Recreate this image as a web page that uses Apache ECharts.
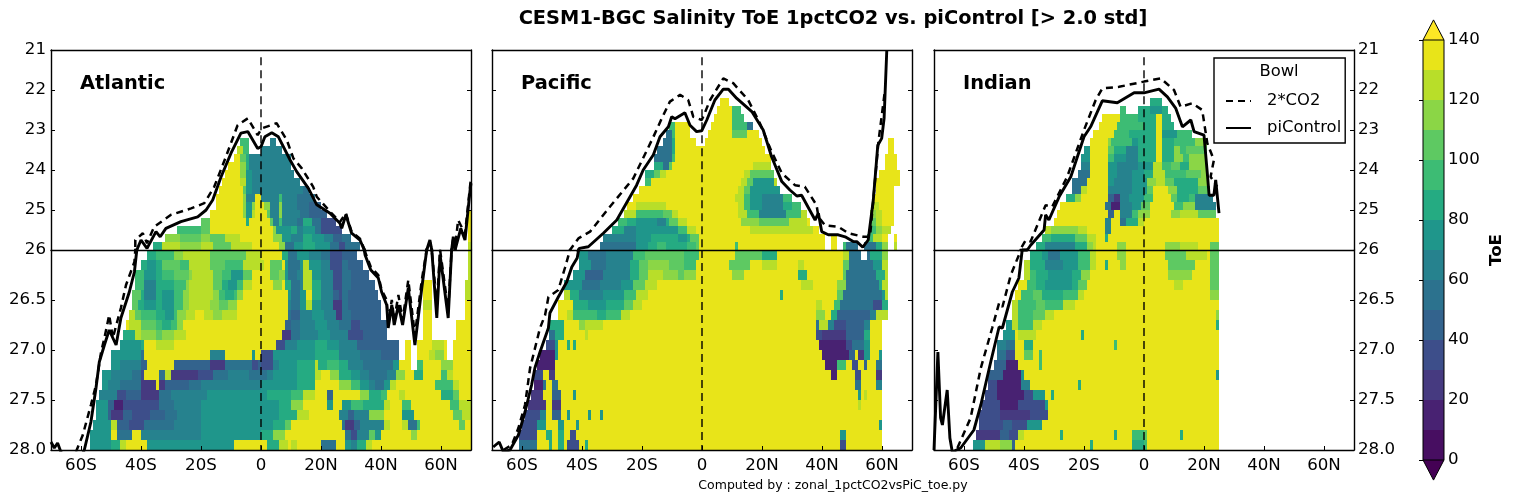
<!DOCTYPE html>
<html><head><meta charset="utf-8">
<style>html,body{margin:0;padding:0;background:#fff}#c{width:1513px;height:503px}</style>
<script src="https://cdn.jsdelivr.net/npm/echarts@6/dist/echarts.min.js"></script>
</head><body><div id="c"></div>
<script>
// ToE level per run: first char = level (0-d, one per 10 yr band; '.' = no data), rest = longitude where the run ends.
const atlanticUpper = ['','','','','','','','','','','',
".-7 9-4 .3 65",
".-8 c-6 9-4 .0 67",
".-9 d-7 a-5 8-4 610",
".-11 d-7 b-5 8-4 610",
".-12 d-7 b-5 7-3 611",
".-13 d-7 c-5 7-3 613",
".-14 d-6 a-5 7-3 614 516",
".-15 d-6 b-5 6-2 d0 66 97 612 518",
".-15 d-6 b-5 7-3 b-2 d1 b3 66 b7 612 516 420",
".-17 d-6 b-5 7-3 c-2 d2 a3 66 b7 613 516 422 .69 d70",
".-20 a-17 d-5 8-4 d3 a4 66 97 612 514 817 520 325 .69 d70",
".-28 9-20 a-17 d4 b5 710 812 614 718 520 327 .69 d70",
".-32 b-27 a-20 b-17 a-12 c-7 d4 b7 710 614 817 721 624 427 530 .69 d70",
".-36 8-33 c-27 b-20 c-16 a-10 c-3 d6 b8 511 714 818 723 526 328 533 .69 c70"];
const atlanticLower = [
".-38 8-35 9-29 b-26 c-17 a-5 c0 d7 89 512 716 620 523 327 432 .69 c70",
".-40 8-38 7-35 8-33 a-27 9-24 c-17 a-12 9-6 c0 c1 d3 a7 d8 79 513 714 c16 720 623 327 529 434 .69 c70",
".-42 9-39 7-35 8-33 9-29 a-24 b-23 c-16 a-13 9-10 7-6 a-3 d0 d3 a6 b8 79 512 614 c17 720 624 327 530 436 .69 c70",
".-42 9-39 6-35 8-33 8-29 9-25 b-24 c-16 a-13 8-11 7-8 9-6 c-3 d0 d4 b7 d8 810 513 614 c17 820 624 327 530 438 .54 d57 .68 c70",
".-43 a-40 8-39 6-35 8-33 7-29 9-26 b-24 c-16 b-14 9-12 8-9 9-8 b-6 d0 d9 710 513 715 d17 820 624 426 327 529 439 .54 d57 .68 c70",
".-43 a-41 8-39 7-35 8-33 7-29 9-26 b-24 c-17 b-14 a-11 b-8 d0 d9 610 513 715 c17 720 624 227 529 440 .54 c57 .68 d70",
".-44 c-42 a-40 9-35 8-32 7-29 9-28 b-25 c-22 d-19 c-16 b-13 c-8 d0 d9 510 413 617 721 625 227 530 440 .54 d57 .68 d70",
".-45 d-44 c-40 a-35 9-33 8-30 9-28 b-26 d0 d8 410 513 618 722 626 530 333 442 .54 d57 .65 d70",
".-46 8-42 c-40 b-35 a-33 b-29 c-25 d0 d7 210 513 619 723 629 334 442 .54 d57 .65 d70",
".-47 7-40 8-39 d-35 c-29 d0 d5 38 612 718 822 726 632 446 .48 d50 .52 d57 c61 d62 .64 d70",
".-50 7-40 5-39 d-17 6-12 d-3 7-2 d0 34 718 826 633 540 446 .48 d50 .52 d56 c58 b61 d62 .64 d70",
".-50 7-47 6-40 4-38 d-29 4-17 2-12 5-3 3-1 40 34 66 712 818 c19 822 926 829 634 544 746 d50 .52 954 d60 b64 d70",
".-53 7-50 6-43 5-40 3-39 d-34 5-32 c-30 2-21 3-16 5-11 6-4 50 52 64 712 818 c20 d23 b26 830 733 636 542 645 b48 d51 854 d60 962 c64 d70",
".-53 7-51 6-47 5-40 2-35 d-34 2-32 4-24 5-20 60 712 818 d26 b30 933 736 638 541 743 c45 d58 964 c66 d70",
".-54 6-48 3-45 4-40 2-34 5-30 6-18 70 72 810 914 c18 d22 424 d33 b36 840 942 d46 c48 d60 864 a66 d70",
".-55 7-51 4-49 1-46 3-34 5-29 6-20 70 76 810 b14 d22 724 d27 730 934 841 c43 d47 950 d63 966 c70",
".-55 7-51 4-50 2-46 4-43 3-37 4-32 5-28 6-20 70 76 812 c16 d26 629 431 636 b41 d47 751 d64 a67 c70",
".-56 7-50 c-48 4-44 3-39 5-29 6-20 70 74 88 a10 d27 528 231 433 641 c43 d47 c49 552 953 d66 a68 d70",
".-57 7-50 d-48 5-43 d-40 6-20 70 84 b8 d28 530 332 636 a38 740 d50 b52 d70",
".-57 7-50 8-47 c-45 d-38 7-9 d0 d2 86 c9 d10 c12 d20 525 d28 730 632 835 c37 d70"];
const pacificUpper = ['','','','','','',
".6 d9",
".5 d10 913",
".4 d10 914",
".-11 9-9 d-4 .3 d10 915 517",
".-12 5-10 9-9 d-4 .2 d10 a15 d19",
".-13 5-10 8-9 d-2 .1 d20 .62 d64",
".-15 5-10 8-9 d21 .62 d64",
".-16 5-10 9-9 d23 .61 d65",
".-16 8-13 5-11 a-10 d17 c23 .61 d65",
".-19 8-16 a-14 c-12 d14 c16 a24 .59 d66",
".-19 9-17 d13 c15 a17 724 c25 .58 d66",
".-21 d12 c14 a16 726 .58 d64",
".-23 d11 c14 916 720 627 930 .57 d64",
".-25 d-22 c-12 d12 c14 916 720 627 830 933 .57 c59 d64",
".-26 c-22 9-13 a-10 c-8 d12 c15 919 628 933 c35 .56 b58 c60 d64",
".-28 9-25 8-22 7-15 6-12 8-11 a-8 c-5 d13 b19 a29 c35 d36 .56 a58 c60 d64",
".-30 8-26 6-22 7-8 9-5 c-2 d16 c37 d39 .56 958 b60 c63",
".-33 6-22 7-17 8-8 7-5 8-4 a-1 d41 .43 d45 .55 957 c60 d62 .64 d65",
".-34 5-22 7-18 8-15 9-12 8-5 9-2 a-1 d11 912 d41 .43 d45 .47 948 552 .54 558 860 b62 .64 c65"];
const pacificLower = [
".-41 7-38 5-32 6-23 9-19 a-6 9-1 d0 d11 a20 825 d47 c49 553 .55 556 860 b62",
".-41 7-37 5-32 6-24 8-21 a-18 b-11 a-6 9-2 d0 d9 a16 d20 c25 d32 c34 d47 a49 557 760 c62",
".-43 7-39 4-33 6-24 8-21 a-18 c-13 b-8 a-6 b-2 d0 d10 b14 d32 835 d47 a48 558 861 c62",
".-46 7-40 5-34 6-27 7-23 a-19 c-15 d0 d33 c37 d45 b48 559 860 c62",
".-46 c-44 8-41 6-33 7-26 9-22 c-18 d0 d26 827 d45 a47 560 761 c62",
".-48 d-43 8-38 7-32 8-26 a-23 c-20 d0 d38 c40 d44 946 557 360 862",
".-48 d-45 c-43 9-35 8-32 9-27 c-24 d0 d38 b41 d43 845 456 658 c62",
".-51 8-46 d-41 b-39 c-33 d0 d38 539 c42 644 348 454 656 d60",
".-51 5-49 8-46 d-39 c-38 d0 d38 340 248 454 856 d60",
".-52 3-49 7-48 d-45 8-44 d-43 8-42 d0 d39 148 350 554 756 d60",
".-54 1-49 7-48 d0 d40 149 451 d52 254 756 d59 760",
".-55 1-49 d0 d41 145 948 d50 352 d54 455 d58 560",
".-56 3-53 d-51 2-49 d0 d43 145 d51 353 d58 260",
".-56 1-53 5-52 d-50 5-48 d0 d51 553 d58 660",
".-57 2-53 d-50 4-47 d-43 7-42 d0 d52 753 d54 c55 d60",
".-58 2-52 d-50 2-47 d0 d52 c53 d60",
".-59 3-54 6-52 d-50 4-47 d-45 7-44 d-38 7-37 d-34 7-33 d0 d60",
".-60 3-55 7-52 d-48 7-46 d-42 7-41 d0 d59 760",
".-61 3-55 d-52 8-50 d-48 8-46 d-44 3-42 d0 d46 748 d60",
".-61 5-55 d-51 8-50 d-48 8-46 d-45 3-41 d-39 8-38 d0 d46 348 d60"];
const indianUpper = ['','','','','','',
".2 86",
".-8 9-6 .-2 82 76 88",
".-14 d-8 9-2 84 d6 89",
".-15 d-9 90 84 d6 810",
".-17 d-10 9-5 8-2 84 d6 711 916",
".-18 d-12 b-11 9-4 7-2 84 d6 810 913 917 b21",
".-20 7-18 d-12 a-10 8-6 6-2 84 d6 810 b12 914 a21",
".-21 7-18 d-12 9-10 7-6 6-2 84 d6 810 b13 915 b21",
".-21 6-18 d-12 7-9 6-2 73 c6 99 a12 815 b21",
".-22 5-18 d-12 7-9 6-4 70 83 c7 910 914 a19 b21",
".-24 5-19 d-12 7-10 6-4 71 b4 c7 a10 818 b21",
".-24 5-21 c-19 d-12 6-4 71 a3 d8 b11 818 a22",
".-26 8-23 b-21 d-12 4-10 2-8 6-5 70 93 d9 a11 815 917 623",
".-28 d-13 5-11 1-8 6-4 7-1 a2 d10 913 b17 624",
".-29 d-12 4-10 d-8 6-4 9-2 b2 d9 b12 c18 a24",
".-30 d-13 6-11 d-8 5-6 8-2 c0 d25",
".-33 c-31 b-22 c-19 d-13 6-11 d25",
".-34 9-31 8-23 a-19 c-16 d-13 8-12 d25",
".-36 8-33 6-23 8-19 b-17 c-16 d-9 b-6 d7 b12 c18 d22 a25"];
const indianLower = [
".-38 8-34 7-32 5-28 7-22 9-18 c-16 d-9 b-6 d7 a14 c21 d22 a25",
".-40 c-38 8-33 6-27 7-22 9-18 c-16 d-13 8-12 d-8 b-6 d8 a17 d22 a25",
".-40 c-38 9-36 8-32 7-24 8-21 b-18 d8 b16 d22 a25",
".-42 d-39 9-36 8-33 7-24 8-22 a-19 d10 c13 d22 a25",
".-43 d-41 9-37 a-34 8-27 9-22 c-20 d22 b25",
".-44 c-42 9-36 a-33 9-27 c-23 d25",
".-44 c-42 9-37 a-33 c-30 d24 b25",
".-46 7-44 c-42 9-37 c-34 d24 825",
".-47 7-43 d-42 c-36 d-21 8-20 d25",
".-49 6-46 5-43 d-40 8-37 d-10 9-9 d25",
".-49 5-46 3-43 d-40 a-37 d-35 9-34 d25",
".-50 4-46 1-42 d-35 9-34 d25",
".-52 4-47 1-41 7-40 d24 725",
".-52 3-49 1-41 6-38 d-22 8-21 d25",
".-53 3-49 1-40 3-37 7-33 d-31 8-30 d25",
".-54 3-48 1-42 3-33 7-32 d25",
".-55 3-48 2-38 3-32 d25",
".-55 3-47 4-44 3-39 7-34 d25",
".-56 2-48 4-45 3-42 c-40 d-28 8-27 d-10 8-9 d-4 90 a1 d12 813 d25",
".-57 7-53 c-48 b-44 4-43 d-18 8-17 d-4 80 91 d25"];

const atlanticPi = [[-70,27.92],[-68.9,27.98],[-67.8,27.93],[-66.7,28.02],[-62,28.2],[-58.9,28],[-56.7,27.72],[-55,27.38],[-53.9,27.12],[-52.2,26.95],[-50.6,26.8],[-48.3,26.95],[-46.7,26.68],[-43.9,26.42],[-42.2,26.22],[-41.4,26],[-40,25.75],[-38,25.96],[-35,25.54],[-33.6,25.67],[-31.7,25.46],[-26.7,25.29],[-21.1,25.17],[-18.3,25],[-16.1,24.75],[-13.3,24.17],[-10,23.58],[-6.7,23.08],[-4.4,23.04],[-1.1,23.46],[0,23.42],[1.3,23.17],[3.6,23.07],[5.8,23.17],[9.7,23.75],[11.9,24.04],[15.8,24.46],[18.6,24.87],[23,25.08],[26.3,25.33],[26.9,25.46],[28.3,25.12],[30.2,25.58],[33,25.75],[34.7,26.05],[36.6,26.2],[39.1,26.28],[40.2,26.42],[41.9,26.55],[42.4,26.78],[43.6,26.55],[44.4,26.75],[45.8,26.55],[47.2,26.75],[49.1,26.38],[51.3,26.95],[53.6,26.38],[56.3,25.75],[58.6,26.68],[59.7,26.05],[62.4,26.68],[64.1,25.67],[64.7,26],[66.6,25.46],[68,25.75],[69.7,24.5],[70,24.33]];
const atlanticCO2 = [[-61.7,28.02],[-59.4,27.85],[-56.7,27.55],[-55,27.35],[-53.3,27.02],[-52.2,26.88],[-50.6,26.65],[-49.4,26.88],[-46.7,26.58],[-45,26.35],[-42.2,26.12],[-41.9,26],[-41.9,25.75],[-39.4,25.58],[-38,25.83],[-35.6,25.42],[-30,25.12],[-23.3,24.96],[-18.9,24.83],[-15.6,24.42],[-11.7,23.67],[-7.8,22.88],[-4.4,22.71],[-1.1,23.13],[0.2,22.96],[5.2,22.83],[8.6,23.25],[10.8,23.71],[13.6,23.96],[17.4,24.42],[18.6,24.67],[23,25.04],[26.3,25.3],[28.3,25.08],[30.2,25.54],[33,25.72],[34.7,26.02],[36.6,26.17],[39.1,26.25],[40.2,26.4],[41.9,26.5],[42.4,26.72],[43.6,26.5],[44.4,26.7],[45.8,26.45],[47.2,26.7],[49.1,26.3],[51.3,26.85],[53.6,26.3],[56.3,25.8],[58.6,26.55],[59.7,26],[62.4,26.6],[64.1,25.7],[64.7,25.95],[65.7,25.25],[68,25.6],[69.7,24.4],[70,24.2]];
const pacificPi = [[-69.6,27.97],[-67.6,27.92],[-66.2,28.02],[-64,28],[-61.2,27.85],[-59,27.62],[-56.8,27.35],[-55.7,27.18],[-54,27.02],[-51.2,26.78],[-50.7,26.63],[-47.9,26.47],[-45.1,26.32],[-43.4,26.17],[-41.6,26.08],[-40.9,25.96],[-37.9,25.92],[-32.9,25.58],[-28.4,25.25],[-21.8,24.38],[-19.6,24],[-16.2,23.62],[-14,23.17],[-11.2,22.92],[-10.1,22.67],[-9,22.72],[-5.7,22.57],[-4,22.88],[-1.8,23.04],[-0.1,23.02],[1.6,22.75],[4.3,22.25],[7.1,21.98],[8.8,21.98],[11.6,22.21],[16.6,22.54],[20.4,23],[23.2,23.67],[26.6,24.29],[29.3,24.5],[31.6,24.65],[33.2,24.63],[37.7,25.25],[38.8,25.08],[39.9,25.54],[42.1,25.62],[45.4,25.62],[47.7,25.67],[50.4,25.79],[51.6,25.79],[53.6,25.93],[55.4,25.75],[57.1,24.75],[58.6,23.38],[59.9,23.21],[60.7,22.71],[61.6,21]];
const pacificCO2 = [[-66.2,28],[-63.4,27.95],[-61.2,27.78],[-59,27.55],[-57.3,27.18],[-54,26.78],[-52.3,26.65],[-51.2,26.47],[-47.9,26.4],[-45.7,26.18],[-44,26],[-41.2,25.71],[-37.3,25.54],[-30.7,24.92],[-22.9,24.21],[-16.2,23.17],[-13.4,22.71],[-10.7,22.29],[-7.3,22.12],[-4.6,22.25],[-2.9,22.67],[-0.1,22.75],[0.4,22.67],[2.7,22.25],[7.1,21.71],[10.4,21.83],[15.4,22.25],[19.3,22.83],[23.2,23.54],[26.6,24.08],[31,24.38],[34.3,24.42],[38.2,24.88],[38.8,25.17],[41,25.38],[45.4,25.42],[48.8,25.58],[53.8,25.67],[56,25.67],[57.1,24.75],[58.8,23.3],[61,22]];
const indianPi = [[-70,28],[-68.7,27.02],[-67.8,27.68],[-67.2,27.75],[-65.6,27.4],[-64.7,27.88],[-63.9,28.02],[-61.1,27.98],[-56.7,27.8],[-54.4,27.55],[-51.1,27.12],[-48.3,26.77],[-47.2,26.78],[-43.9,26.42],[-41.7,26.28],[-40.6,26],[-38.9,26],[-37.8,25.88],[-33.3,25.5],[-32.8,25.12],[-31.7,25.25],[-28.3,24.67],[-24.4,24.17],[-20,23.17],[-17.8,22.92],[-13.9,22.27],[-8.9,22.32],[-3.3,22.07],[0,22.07],[5,21.98],[7.8,22.17],[10.6,22.46],[12.8,22.92],[15.6,22.75],[16.7,23.04],[20,23.13],[21.1,24.08],[21.7,24.63],[23.3,24.63],[23.9,24.25],[25,25.08]];
const indianCO2 = [[-62.2,27.98],[-57.8,27.68],[-54.4,27.18],[-50.6,26.78],[-48.3,26.53],[-47.2,26.57],[-44.4,26.25],[-41.7,26.05],[-41.1,26],[-39.4,25.75],[-37.8,25.79],[-32.8,24.88],[-32.2,24.83],[-30.6,24.92],[-25.6,24.17],[-20,23],[-16.1,22.25],[-13.9,21.96],[-8.3,21.92],[0,21.79],[5.6,21.71],[10,22],[12.2,22.42],[16.1,22.33],[19.4,22.5],[21.1,23.33],[23.3,23.75],[22.2,24.17],[24.4,24.42]];

const lonTicks = [-60,-40,-20,0,20,40,60];
const lonLabels = ['60S','40S','20S','0','20N','40N','60N'];
const zeroLineUpper = [[0,21.18],[0,26]];
const zeroLineLower = [[0,26],[0,28]];
const basinNames = ['Atlantic','Pacific','Indian'];
const levelColors = ['#470e61','#482272','#463a80','#3d4e8a','#33638d','#2c728e','#26828e','#1f968b','#25ab82','#3dbc74','#5ec962','#8bd646','#b8de29','#e8e419'];
const colorbarLevels = [0,10,20,30,40,50,60,70,80,90,100,110,120,130,140];
const FONT = 'DejaVu Sans';

function parseRuns(rows, firstSigma, step){
  const out = [];
  rows.forEach((row, r) => {
    if(!row) return;
    let start = -70;
    row.split(' ').forEach(tok => {
      const lev = tok[0], end = +tok.slice(1);
      if(lev !== '.' && end > start){
        out.push([start, end, firstSigma + r*step, firstSigma + (r+1)*step, parseInt(lev,16)]);
      }
      if(end > start) start = end;
    });
  });
  return out;
}
const panels = [
 {upper:parseRuns(atlanticUpper,21,0.2), lower:parseRuns(atlanticLower,26,0.1), pi:atlanticPi, co2:atlanticCO2, left:51},
 {upper:parseRuns(pacificUpper,21,0.2),  lower:parseRuns(pacificLower,26,0.1),  pi:pacificPi,  co2:pacificCO2,  left:492},
 {upper:parseRuns(indianUpper,21,0.2),   lower:parseRuns(indianLower,26,0.1),   pi:indianPi,   co2:indianCO2,   left:934}
];

function renderCell(params, api){
  const a = api.coord([api.value(0), api.value(2)]);
  const b = api.coord([api.value(1), api.value(3)]);
  const x0 = Math.round(a[0]), x1 = Math.round(b[0]), y0 = Math.round(a[1]), y1 = Math.round(b[1]);
  return {type:'rect', shape:{x:x0, y:y0, width:x1-x0, height:y1-y0}, style:{fill:levelColors[api.value(4)]}};
}
const axisLine = {show:true, onZero:false, lineStyle:{color:'#000', width:1.4}};
const tickStyle = {show:true, inside:true, length:4, lineStyle:{color:'#000', width:1}};
const labelStyle = {color:'#000', fontFamily:FONT, fontSize:16.67};

const grid=[], xAxis=[], yAxis=[], series=[], title=[];
panels.forEach((p, i) => {
  const gTop = grid.length;
  grid.push({left:p.left, top:50, width:420, height:200});
  grid.push({left:p.left, top:250, width:420, height:200});
  const xTop = xAxis.length;
  const blankX = (g, pos) => ({type:'value', gridIndex:g, position:pos, min:-70, max:70, z:5, axisLine, axisTick:{show:false}, axisLabel:{show:false}, splitLine:{show:false}});
  xAxis.push(blankX(gTop,'top'));
  xAxis.push(blankX(gTop,'bottom'));
  xAxis.push({type:'value', gridIndex:gTop+1, position:'bottom', min:-70, max:70, z:5, axisLine,
    axisTick:Object.assign({customValues:lonTicks}, tickStyle),
    axisLabel:Object.assign({customValues:lonTicks, margin:7, formatter:v => lonLabels[lonTicks.indexOf(v)] || ''}, labelStyle),
    splitLine:{show:false}});
  const yTop = yAxis.length;
  const mkY = (g, pos, lower, showLabel) => ({type:'value', gridIndex:g, position:pos, inverse:true, z:5,
    min:lower?26:21, max:lower?28:26, interval:lower?0.5:1, axisLine, axisTick:tickStyle,
    axisLabel:Object.assign({show:showLabel, margin:pos==='left'?5:4, showMinLabel:!lower, padding:[0,0,1,0],
      formatter:v => lower ? v.toFixed(1) : String(v)}, labelStyle),
    splitLine:{show:false}});
  yAxis.push(mkY(gTop,'left',false,i===0), mkY(gTop,'right',false,i===2));
  yAxis.push(mkY(gTop+1,'left',true,i===0), mkY(gTop+1,'right',true,i===2));
  [[gTop,xTop,yTop,p.upper,zeroLineUpper],[gTop+1,xTop+2,yTop+2,p.lower,zeroLineLower]].forEach(([g,xi,yi,cells,zero]) => {
    series.push({type:'custom', xAxisIndex:xi, yAxisIndex:yi, renderItem:renderCell, data:cells, silent:true, z:2, clip:true, progressive:0});
    const line = (name, data, width, type, z) => ({type:'line', name, xAxisIndex:xi, yAxisIndex:yi, data, showSymbol:false, symbol:'none', silent:true, clip:true, z,
      lineStyle:{color:'#000', width, type}, itemStyle:{color:'#000'}});
    series.push(line('zero', zero, 1.4, [8,5], 3));
    series.push(line('2*CO2', p.co2, 2.5, [7,5], 4));
    series.push(line('piControl', p.pi, 2.9, 'solid', 4));
  });
  title.push({text:basinNames[i], left:p.left+29, top:74, textStyle:{fontFamily:FONT, fontSize:19.4, fontWeight:'bold', color:'#000'}, padding:0, z:10});
});
title.push({text:'CESM1-BGC Salinity ToE 1pctCO2 vs. piControl [> 2.0 std]', left:833, top:9, textAlign:'center', padding:0, textStyle:{fontFamily:FONT, fontSize:19.4, fontWeight:'bold', color:'#000'}});
title.push({text:'Computed by : zonal_1pctCO2vsPiC_toe.py', left:833, top:479, textAlign:'center', padding:0, textStyle:{fontFamily:FONT, fontSize:12.5, fontWeight:'normal', color:'#000'}});
title.push({text:'Bowl', left:1279, top:64, textAlign:'center', padding:0, z:10, textStyle:{fontFamily:FONT, fontSize:16.4, fontWeight:'normal', color:'#000'}});

// colour bar
const cbG = grid.length;
grid.push({left:1423, top:40, width:21, height:420});
const cbX = xAxis.length, cbY = yAxis.length;
xAxis.push({type:'value', gridIndex:cbG, min:0, max:1, show:false});
yAxis.push({type:'value', gridIndex:cbG, position:'right', min:0, max:140, interval:20, z:5,
  axisLine:{show:false}, axisTick:tickStyle,
  axisLabel:Object.assign({margin:4, padding:[0,0,3,0]}, labelStyle), splitLine:{show:false},
  name:'ToE', nameLocation:'middle', nameRotate:90, nameGap:44,
  nameTextStyle:{fontFamily:FONT, fontSize:16.67, fontWeight:'bold', color:'#000'}});
const cbData = colorbarLevels.slice(0,-1).map((v,k) => [v, colorbarLevels[k+1], k]);
series.push({type:'custom', xAxisIndex:cbX, yAxisIndex:cbY, silent:true, z:2, data:cbData,
  renderItem(params, api){
    const a = api.coord([0, api.value(1)]), b = api.coord([1, api.value(0)]);
    return {type:'rect', shape:{x:a[0], y:Math.round(a[1]), width:b[0]-a[0], height:Math.round(b[1])-Math.round(a[1])}, style:{fill:levelColors[api.value(2)]}};
  }});
const cbEnds = [[146.7,140,'#fde725'],[-6.7,0,'#440154']];
series.push({type:'custom', xAxisIndex:cbX, yAxisIndex:cbY, silent:true, z:3, data:cbEnds, clip:false,
  renderItem(params, api){
    const tip = api.coord([0.5, api.value(0)]), l = api.coord([0, api.value(1)]), r = api.coord([1, api.value(1)]);
    return {type:'polygon', shape:{points:[tip,l,r]}, style:{fill:cbEnds[params.dataIndex][2], stroke:'#000', lineWidth:1}};
  }});
series.push({type:'custom', xAxisIndex:cbX, yAxisIndex:cbY, silent:true, z:4, data:[[0,140]], clip:false,
  renderItem(params, api){
    const a = api.coord([0,140]), b = api.coord([1,0]);
    return {type:'group', children:[
      {type:'line', shape:{x1:a[0],y1:a[1],x2:a[0],y2:b[1]}, style:{stroke:'#000', lineWidth:1}},
      {type:'line', shape:{x1:b[0],y1:a[1],x2:b[0],y2:b[1]}, style:{stroke:'#000', lineWidth:1}}]};
  }});

const chart = echarts.init(document.getElementById('c'), null, {renderer:'canvas'});
chart.setOption({
  animation:false, backgroundColor:'#fff', grid, xAxis, yAxis, series, title,
  legend:{data:['2*CO2','piControl'], left:1214, top:58, orient:'vertical', selectedMode:false,
    itemWidth:25, itemHeight:19, itemGap:11, padding:[35,4,7,11], borderColor:'#000', borderWidth:1.4, backgroundColor:'#fff', z:6,
    itemStyle:{opacity:0},
    textStyle:{fontFamily:FONT, fontSize:16.4, color:'#000', padding:[0,0,0,11]}}
});
</script></body></html>
